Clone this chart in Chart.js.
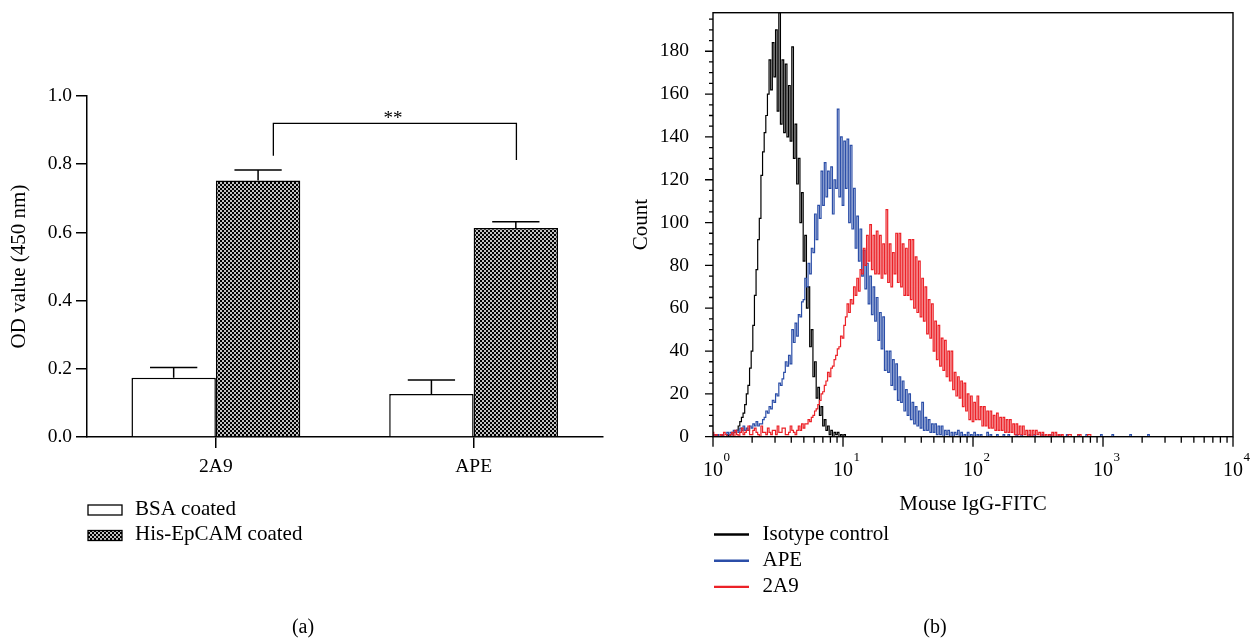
<!DOCTYPE html>
<html lang="en">
<head>
<meta charset="UTF-8">
<title>2A9 / APE binding to EpCAM</title>
<script src="https://cdn.jsdelivr.net/npm/chart.js"></script>
<style>
  html, body { margin: 0; padding: 0; background: #fff; }
  body { width: 1255px; height: 639px; position: relative; overflow: hidden; }
  canvas { position: absolute; top: 0; }
  #elisaChart { left: 0; }
  #flowChart { left: 625px; }
</style>
</head>
<body>
<canvas id="elisaChart" width="625" height="639"></canvas>
<canvas id="flowChart" width="630" height="639"></canvas>
<script>
// ---- panel (a): ELISA ----
const groups = ['2A9', 'APE'];
const bsaMeans = [0.174, 0.126];
const bsaErrors = [0.030, 0.041];
const hisMeans = [0.752, 0.613];
const hisErrors = [0.031, 0.018];
const odMax = 1.0;
const odStep = 0.2;

// ---- panel (b): flow histograms ----
// counts per channel bin, bins are 0.0125 decade wide starting at 10^0
const binLogStep = 0.0125;
const isotypeCounts = [
  1,0, 0,1, 0,0, 1,0, 0,1, 0,1, 1,2, 2,3, 5,7, 9,11,
  15,20, 24,32, 40,52, 66,78, 92,102, 122,133, 142,150, 160,176, 162,184, 168,190,
  152,198, 146,176, 142,174, 140,164, 138,182, 130,146, 118,130, 100,114, 82,94, 60,70,
  42,50, 28,35, 18,23, 10,14, 5,8, 3,5, 1,3, 0,2, 1,2, 0,1,
  0,1, 0,0];
const apeCounts = [
  0,1, 0,1, 0,0, 1,0, 0,2, 1,2, 1,3, 2,3, 2,4, 3,5,
  3,4, 3,5, 4,6, 5,7, 5,6, 6,8, 9,12, 11,14, 13,17, 16,20,
  19,25, 24,27, 30,35, 33,38, 34,50, 44,53, 47,57, 56,63, 64,74, 70,81,
  76,88, 86,104, 92,108, 102,124, 108,128, 112,124, 116,126, 104,120, 116,153, 112,140,
  108,138, 116,139, 100,136, 97,116, 88,103, 82,97, 75,87, 69,81, 62,75, 57,70,
  54,65, 45,58, 41,56, 31,40, 30,40, 24,36, 22,34, 17,28, 16,26, 12,22,
  10,20, 8,16, 6,14, 5,12, 4,16, 3,9, 3,8, 2,6, 2,6, 1,5,
  1,5, 0,3, 1,3, 0,2, 0,2, 1,3, 0,2, 0,1, 0,2, 0,1,
  0,2, 0,1, 0,1, 0,0, 0,2, 0,1, 0,0, 0,1, 0,0, 0,1,
  0,0, 1,0, 0,0, 0,1, 0,0, 1,0, 0,0, 0,1, 0,0, 1,0,
  0,0, 0,1, 0,0, 0,0, 1,0, 0,0, 0,1, 0,0, 0,0, 1,0,
  0,0, 0,0, 0,1, 0,0, 0,0, 1,0, 0,0, 0,0, 0,0, 0,1,
  0,0, 0,0, 0,0, 1,0, 0,0, 0,0, 0,0, 0,0, 0,1, 0,0,
  0,0, 0,0, 0,0, 0,0, 1,0, 0,0];
const a2a9Counts = [
  2,0, 1,0, 0,1, 0,2, 1,0, 0,1, 2,0, 3,1, 0,2, 4,1,
  2,3, 5,1, 1,3, 4,2, 1,0, 5,2, 2,1, 4,2, 1,3, 3,1,
  5,2, 2,4, 4,1, 1,2, 5,3, 2,1, 3,5, 3,6, 4,6, 6,8,
  7,9, 10,12, 13,15, 17,20, 21,24, 26,30, 28,32, 33,36, 38,41, 42,47,
  46,52, 56,62, 58,64, 62,70, 66,74, 68,78, 76,88, 80,94, 82,99, 78,94,
  76,96, 76,94, 74,90, 76,106, 72,90, 70,86, 76,95, 72,95, 70,90, 66,88,
  66,92, 64,92, 60,84, 58,82, 56,74, 54,70, 48,64, 46,62, 40,54, 36,52,
  33,46, 31,45, 28,40, 26,40, 22,30, 19,28, 18,26, 14,25, 12,20, 8,19,
  7,16, 8,19, 8,14, 5,14, 5,12, 4,12, 4,10, 3,11, 3,9, 3,9,
  2,8, 2,8, 2,6, 1,6, 1,5, 1,5, 1,3, 0,3, 0,3, 1,3,
  1,2, 0,2, 0,1, 0,1, 0,2, 0,2, 0,1, 0,1, 0,0, 0,1,
  1,0, 0,0, 0,1, 1,0, 0,0, 0,1, 1,0, 0,0];
const countMax = 198;
const countMajorStep = 20;
const countMinorStep = 5;
const decades = [0, 1, 2, 3, 4];

const serif = 'Liberation Serif';

function checkerPattern() {
  const c = document.createElement('canvas');
  c.width = 4; c.height = 4;
  const g = c.getContext('2d');
  g.fillStyle = '#c2c2c2';
  g.fillRect(0, 0, 4, 4);
  g.fillStyle = '#000';
  g.fillRect(0, 0, 2, 2);
  g.fillRect(2, 2, 2, 2);
  return g.createPattern(c, 'repeat');
}

// error bars (upper only) for panel a
const errorBars = {
  id: 'errorBars',
  afterDatasetsDraw(chart) {
    const ctx = chart.ctx;
    const y = chart.scales.y;
    ctx.save();
    ctx.strokeStyle = '#000';
    ctx.lineWidth = 1.5;
    chart.data.datasets.forEach((ds, di) => {
      chart.getDatasetMeta(di).data.forEach((bar, i) => {
        const top = y.getPixelForValue(ds.data[i] + ds.errors[i]);
        const half = bar.width * 0.28;
        ctx.beginPath();
        ctx.moveTo(bar.x, bar.y);
        ctx.lineTo(bar.x, top);
        ctx.moveTo(bar.x - half, top);
        ctx.lineTo(bar.x + half, top);
        ctx.stroke();
      });
    });
    ctx.restore();
  }
};

// significance bracket, legend and panel letter for panel a
const elisaExtras = {
  id: 'elisaExtras',
  afterDraw(chart) {
    const {ctx, scales: {x, y}} = chart;
    const step = x.getPixelForValue(1) - x.getPixelForValue(0);
    const x1 = x.getPixelForValue(0) + 0.223 * step;
    const x2 = x.getPixelForValue(1) + 0.166 * step;
    const yTop = y.getPixelForValue(0.92);
    ctx.save();
    ctx.strokeStyle = '#000';
    ctx.lineWidth = 1.3;
    ctx.beginPath();
    ctx.moveTo(x1, y.getPixelForValue(0.825));
    ctx.lineTo(x1, yTop);
    ctx.lineTo(x2, yTop);
    ctx.lineTo(x2, y.getPixelForValue(0.812));
    ctx.stroke();
    ctx.fillStyle = '#000';
    ctx.font = '19px ' + serif;
    ctx.textAlign = 'center';
    ctx.textBaseline = 'middle';
    ctx.fillText('**', (x1 + x2) / 2 - 2, yTop - 4);

    // legend
    ctx.font = '21px ' + serif;
    ctx.textAlign = 'left';
    ctx.textBaseline = 'alphabetic';
    chart.data.datasets.forEach((ds, i) => {
      const top = 505 + i * 25.5;
      ctx.fillStyle = ds.backgroundColor;
      ctx.fillRect(88, top, 34, 10);
      ctx.lineWidth = 1.3;
      ctx.strokeRect(88, top, 34, 10);
      ctx.fillStyle = '#000';
      ctx.fillText(ds.label, 135, top + 9.5);
    });

    ctx.font = '20px ' + serif;
    ctx.textAlign = 'center';
    ctx.textBaseline = 'middle';
    ctx.fillText('(a)', 303, 628);
    ctx.restore();
  }
};

new Chart(document.getElementById('elisaChart'), {
  type: 'bar',
  data: {
    labels: groups,
    datasets: [
      { label: 'BSA coated', data: bsaMeans, errors: bsaErrors,
        backgroundColor: '#fff', borderColor: '#000', borderWidth: 1.5 },
      { label: 'His-EpCAM coated', data: hisMeans, errors: hisErrors,
        backgroundColor: checkerPattern(), borderColor: '#000', borderWidth: 1.5 }
    ]
  },
  options: {
    responsive: false,
    animation: false,
    devicePixelRatio: 1,
    layout: { padding: { left: 0, top: 96, right: 22.5, bottom: 162 } },
    datasets: { bar: { categoryPercentage: 0.655, barPercentage: 1.0 } },
    plugins: { legend: { display: false }, tooltip: { enabled: false } },
    scales: {
      x: {
        grid: { display: true, drawOnChartArea: false, offset: false,
                tickLength: 11, color: '#000', lineWidth: 1.5 },
        border: { display: true, color: '#000', width: 1.5 },
        ticks: { color: '#000', padding: 7, font: { family: serif, size: 19.5 } },
        afterFit: s => { s.height = 40; }
      },
      y: {
        min: 0, max: odMax,
        grid: { display: true, drawOnChartArea: false, tickLength: 11,
                color: '#000', lineWidth: 1.5 },
        border: { display: true, color: '#000', width: 1.5 },
        ticks: { stepSize: odStep, color: '#000', padding: 4,
                 font: { family: serif, size: 19.5 },
                 callback: v => v.toFixed(1) },
        title: { display: true, text: 'OD value (450 nm)', color: '#000',
                 padding: { top: 7, bottom: 0 }, font: { family: serif, size: 21 } },
        afterFit: s => { s.width = 87; }
      }
    }
  },
  plugins: [errorBars, elisaExtras]
});

// ---- panel b ----
function toPoints(counts) {
  return counts.map((c, i) => ({ x: Math.pow(10, i * binLogStep), y: c }));
}

const flowAxes = {
  id: 'flowAxes',
  afterDraw(chart) {
    const {ctx, chartArea: a, scales: {x, y}} = chart;
    ctx.save();
    ctx.strokeStyle = '#000';
    ctx.lineWidth = 1.4;
    ctx.strokeRect(a.left, a.top, a.right - a.left, a.bottom - a.top);
    ctx.lineWidth = 1.3;
    ctx.beginPath();
    for (let v = 0; v <= countMax; v += countMinorStep) {
      const py = y.getPixelForValue(v);
      const len = v % countMajorStep === 0 ? 8 : 4;
      ctx.moveTo(a.left - len, py);
      ctx.lineTo(a.left, py);
    }
    decades.forEach(e => {
      const mults = e < decades[decades.length - 1] ? [1, 2, 3, 4, 5, 6, 7, 8, 9] : [1];
      mults.forEach(m => {
        const px = x.getPixelForValue(m * Math.pow(10, e));
        const len = m === 1 ? 10 : 6;
        ctx.moveTo(px, a.bottom);
        ctx.lineTo(px, a.bottom + len);
      });
    });
    ctx.stroke();

    ctx.fillStyle = '#000';
    decades.forEach(e => {
      const px = x.getPixelForValue(Math.pow(10, e));
      ctx.font = '20px ' + serif;
      ctx.textAlign = 'center';
      ctx.textBaseline = 'alphabetic';
      ctx.fillText('10', px, 475.5);
      const w = ctx.measureText('10').width;
      ctx.font = '13px ' + serif;
      ctx.textAlign = 'left';
      ctx.fillText(String(e), px + w / 2 + 0.5, 461);
    });

    // legend
    ctx.font = '21px ' + serif;
    ctx.textAlign = 'left';
    ctx.textBaseline = 'alphabetic';
    [0, 1, 2].forEach(i => {
      const ds = chart.data.datasets[i];
      const ly = 534.5 + i * 26.2;
      ctx.strokeStyle = ds.borderColor;
      ctx.lineWidth = 2.4;
      ctx.beginPath();
      ctx.moveTo(89, ly);
      ctx.lineTo(124, ly);
      ctx.stroke();
      ctx.fillStyle = '#000';
      ctx.fillText(ds.label, 137.5, ly + 5.3);
    });

    ctx.font = '20px ' + serif;
    ctx.textAlign = 'center';
    ctx.textBaseline = 'middle';
    ctx.fillText('(b)', 310, 628);
    ctx.restore();
  }
};

const lineStyle = { stepped: 'middle', pointRadius: 0, borderWidth: 1.2, fill: false };

new Chart(document.getElementById('flowChart'), {
  type: 'line',
  data: {
    datasets: [
      Object.assign({ label: 'Isotype control', data: toPoints(isotypeCounts),
        borderColor: '#000000', order: 3 }, lineStyle),
      Object.assign({ label: 'APE', data: toPoints(apeCounts),
        borderColor: '#2b4ea8', order: 2 }, lineStyle),
      Object.assign({ label: '2A9', data: toPoints(a2a9Counts),
        borderColor: '#ec2127', order: 1 }, lineStyle)
    ]
  },
  options: {
    responsive: false,
    animation: false,
    devicePixelRatio: 1,
    layout: { padding: { left: 0, top: 12.7, right: 22, bottom: 122.3 } },
    plugins: { legend: { display: false }, tooltip: { enabled: false } },
    scales: {
      x: {
        type: 'logarithmic', min: 1, max: 10000,
        grid: { display: false },
        border: { display: false },
        ticks: { display: false },
        title: { display: true, text: 'Mouse IgG-FITC', color: '#000',
                 padding: { top: 0, bottom: 0 }, font: { family: serif, size: 21 } },
        afterFit: s => { s.height = 80; }
      },
      y: {
        min: 0, max: countMax,
        grid: { display: false },
        border: { display: false },
        ticks: { stepSize: countMajorStep, includeBounds: false, color: '#000',
                 padding: 16, font: { family: serif, size: 19.5 } },
        title: { display: true, text: 'Count', color: '#000',
                 padding: { top: 4, bottom: 0 }, font: { family: serif, size: 21 } },
        afterFit: s => { s.width = 88; s.paddingTop = 0; s.paddingBottom = 0; }
      }
    }
  },
  plugins: [flowAxes]
});
</script>
</body>
</html>
